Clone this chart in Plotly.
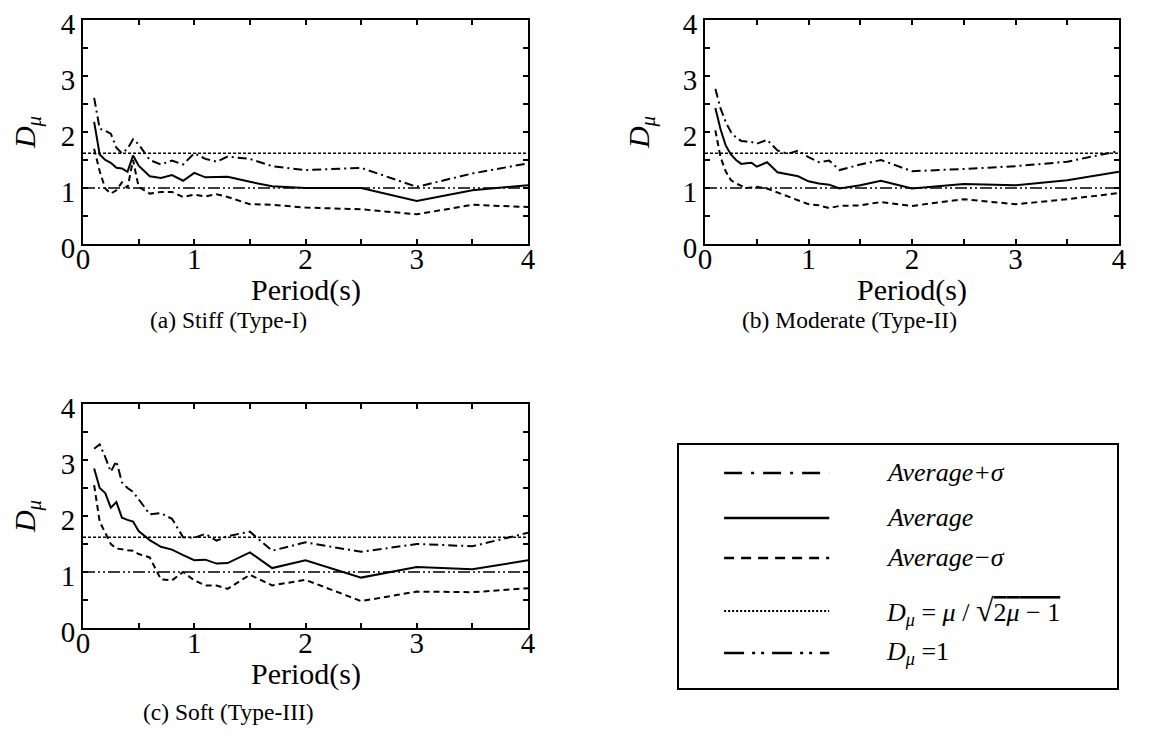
import plotly.graph_objects as go

# ---------------- data ----------------
period = [0.1, 0.15, 0.2, 0.25, 0.3, 0.35, 0.4, 0.45, 0.5, 0.6, 0.7, 0.8, 0.9,
          1.0, 1.1, 1.2, 1.3, 1.5, 1.7, 2.0, 2.5, 3.0, 3.5, 4.0]

# (a) Stiff (Type-I)
a_plus = [2.61, 2.06, 2.02, 1.97, 1.72, 1.62, 1.70, 1.87, 1.78, 1.50, 1.42, 1.49, 1.42,
          1.62, 1.52, 1.47, 1.56, 1.52, 1.39, 1.32, 1.36, 1.02, 1.26, 1.44]
a_avg = [2.18, 1.60, 1.50, 1.45, 1.36, 1.35, 1.29, 1.58, 1.40, 1.21, 1.18, 1.23, 1.13,
         1.27, 1.19, 1.19, 1.20, 1.11, 1.03, 1.00, 1.00, 0.77, 0.96, 1.05]
a_minus = [1.70, 1.30, 0.99, 0.90, 0.96, 1.10, 1.00, 1.50, 1.02, 0.90, 0.93, 0.93, 0.84,
           0.88, 0.85, 0.89, 0.84, 0.71, 0.70, 0.65, 0.62, 0.53, 0.70, 0.66]

# (b) Moderate (Type-II)
b_plus = [2.77, 2.42, 2.18, 2.00, 1.90, 1.84, 1.83, 1.82, 1.79, 1.86, 1.67, 1.61, 1.67,
          1.55, 1.46, 1.49, 1.32, 1.42, 1.50, 1.30, 1.34, 1.39, 1.47, 1.66]
b_avg = [2.43, 2.05, 1.76, 1.60, 1.50, 1.43, 1.44, 1.45, 1.38, 1.46, 1.28, 1.24, 1.21,
         1.12, 1.08, 1.06, 0.99, 1.05, 1.13, 0.99, 1.07, 1.05, 1.14, 1.29]
b_minus = [2.03, 1.55, 1.30, 1.14, 1.08, 1.04, 1.00, 1.01, 1.02, 0.99, 0.92, 0.85, 0.77,
           0.71, 0.69, 0.64, 0.68, 0.69, 0.75, 0.68, 0.80, 0.71, 0.80, 0.91]

# (c) Soft (Type-III)
c_plus = [3.20, 3.28, 3.05, 2.79, 2.98, 2.60, 2.50, 2.43, 2.30, 2.03, 2.05, 1.95, 1.62,
          1.61, 1.68, 1.56, 1.64, 1.72, 1.38, 1.53, 1.36, 1.50, 1.46, 1.70]
c_avg = [2.85, 2.50, 2.41, 2.15, 2.25, 1.97, 1.93, 1.90, 1.73, 1.57, 1.45, 1.40, 1.30,
         1.21, 1.22, 1.15, 1.16, 1.35, 1.07, 1.21, 0.90, 1.09, 1.05, 1.21]
c_minus = [2.55, 1.90, 1.70, 1.50, 1.42, 1.40, 1.39, 1.38, 1.32, 1.26, 0.87, 0.85, 1.00,
           0.85, 0.76, 0.76, 0.70, 0.95, 0.76, 0.86, 0.48, 0.65, 0.64, 0.71]

ref_x = [0, 4]
d_formula = 1.62   # D_mu = mu / sqrt(2 mu - 1)
d_one = 1.0        # D_mu = 1

major_ticks = [0, 1, 2, 3, 4]
minor_step = 0.5

x_title = "Period(s)"
y_title = "<i>D<sub>μ</sub></i>"
captions = ["(a) Stiff (Type-I)", "(b) Moderate (Type-II)", "(c) Soft (Type-III)"]

legend_labels = ["<i>Average+σ</i>", "<i>Average</i>", "<i>Average−σ</i>",
                 "<i>D<sub>μ</sub></i> = <i>μ</i> / <span style='font-size:32px'>√</span>"
                 "<span style='text-decoration:overline'>2<i>μ</i> − 1</span>",
                 "<i>D<sub>μ</sub></i> =1"]

# ---------------- styles ----------------
FONT = "Liberation Serif"
W, H = 1158, 753

plot_styles = [
    dict(dash="9px,4px,2px,4px", width=2),
    dict(dash="solid", width=2),
    dict(dash="6px,4px", width=2),
    dict(dash="3px,2px", width=1.5),
    dict(dash="12px,3px,2px,3px,2px,3px", width=1.5),
]
legend_styles = [
    dict(dash="18px,9px,3px,9px", width=2.5),
    dict(dash="solid", width=2.5),
    dict(dash="10px,7px", width=2.5),
    dict(dash="2px,2px", width=2),
    dict(dash="20px,8px,3px,6px,3px,8px", width=2.5),
]

def px_dom_x(a, b):
    return [a / W, b / W]

def px_dom_y(top, bottom):
    return [1 - bottom / H, 1 - top / H]

# pixel boxes: (left, right, top, bottom)
boxes = [(75, 520, 12, 236), (697, 1111, 12, 236), (75, 520, 396, 620)]
panels = [(a_plus, a_avg, a_minus), (b_plus, b_avg, b_minus), (c_plus, c_avg, c_minus)]

fig = go.Figure()
layout = dict(
    width=W, height=H, margin=dict(l=0, r=0, t=0, b=0, autoexpand=False),
    paper_bgcolor="white", plot_bgcolor="white", showlegend=False,
    font=dict(family=FONT, color="black", size=28),
)

annotations = []
for i, ((p, m, s), (l, r, t, b)) in enumerate(zip(panels, boxes)):
    n = "" if i == 0 else str(i + 1)
    xa, ya = "x" + n, "y" + n
    series = [p, m, s, [d_formula, d_formula], [d_one, d_one]]
    xs = [period, period, period, ref_x, ref_x]
    for k in range(5):
        fig.add_trace(go.Scatter(x=xs[k], y=series[k], mode="lines",
                                 line=dict(color="black", **plot_styles[k]),
                                 xaxis=xa, yaxis=ya, hoverinfo="skip"))
    common = dict(range=[0, 4], tickmode="array", tickvals=major_ticks,
                  ticks="inside", ticklen=5, tickwidth=2, tickcolor="black",
                  minor=dict(dtick=minor_step, tick0=0, ticks="inside", ticklen=5,
                             tickwidth=2, tickcolor="black", showgrid=False),
                  showline=True, linewidth=2, linecolor="black", mirror="ticks",
                  showgrid=False, zeroline=False, automargin=False,
                  ticklabeloverflow="allow",
                  tickfont=dict(family=FONT, size=29, color="black"))
    layout["xaxis" + n] = dict(domain=px_dom_x(l, r), anchor=ya, ticklabelstandoff=-12,
                               **common)
    layout["yaxis" + n] = dict(domain=px_dom_y(t, b), anchor=xa, ticklabelshift=4,
                               title=dict(text=y_title, standoff=24,
                                          font=dict(family=FONT, size=30)),
                               **common)
    annotations.append(dict(text=x_title, x=(l + r) / 2 / W, y=1 - (b + 46) / H,
                            xref="paper", yref="paper", showarrow=False,
                            xanchor="center", yanchor="middle",
                            font=dict(family=FONT, size=30, color="black")))

# captions
cap_pos = [(220, 312), (841, 312), (220, 704)]
for txt, (cx, cy) in zip(captions, cap_pos):
    annotations.append(dict(text=txt, x=cx / W, y=1 - cy / H, xref="paper", yref="paper",
                            showarrow=False, xanchor="center", yanchor="middle",
                            font=dict(family=FONT, size=23.5, color="black")))

# ---------------- legend box (own axes) ----------------
leg_rows = [88.5, 70.0, 53.5, 31.7, 14.4]
sample_x = [10.3, 34.3]
text_x = 46.7
for k, ry in enumerate(leg_rows):
    fig.add_trace(go.Scatter(x=sample_x, y=[ry, ry], mode="lines",
                             line=dict(color="black", **legend_styles[k]),
                             xaxis="x4", yaxis="y4", hoverinfo="skip"))
    annotations.append(dict(text=legend_labels[k], x=text_x, y=ry, xref="x4", yref="y4",
                            showarrow=False, xanchor="left", yanchor="middle",
                            font=dict(family=FONT, size=26, color="black")))

leg_common = dict(range=[0, 100], showline=True, mirror=True, linewidth=2, linecolor="black",
                  showticklabels=False, ticks="", showgrid=False, zeroline=False,
                  fixedrange=True, automargin=False)
layout["xaxis4"] = dict(domain=px_dom_x(671, 1109), anchor="y4", **leg_common)
layout["yaxis4"] = dict(domain=px_dom_y(437, 680), anchor="x4", **leg_common)

layout["annotations"] = annotations
fig.update_layout(**layout)
fig.write_html("out.html")
